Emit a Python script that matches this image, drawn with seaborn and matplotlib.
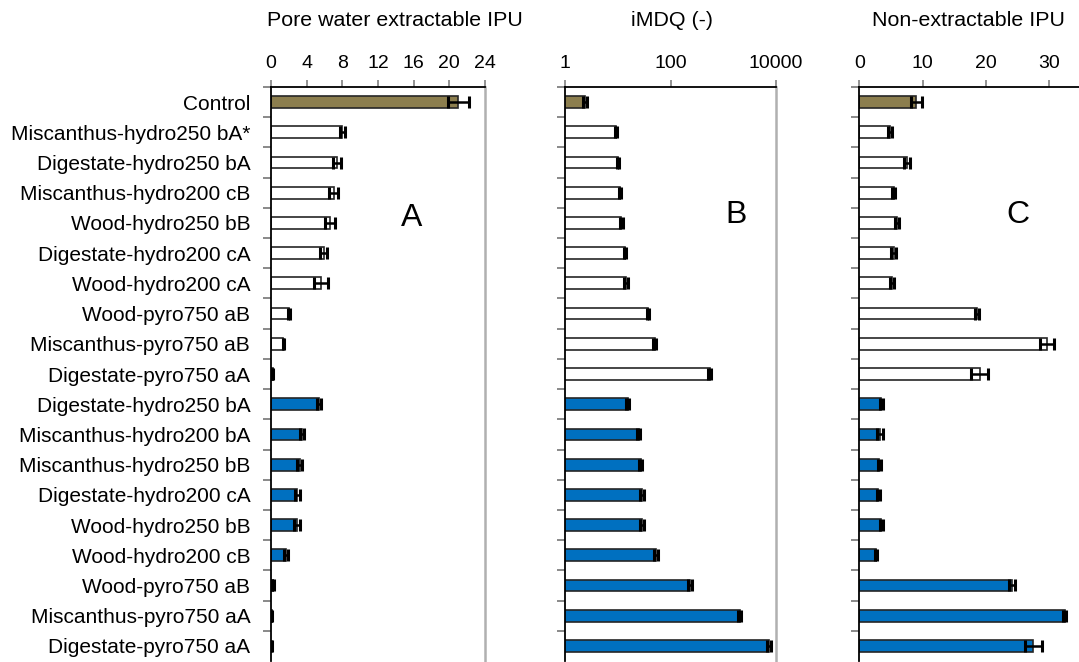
import numpy as np
import pandas as pd
import matplotlib
matplotlib.use("Agg")
import matplotlib.pyplot as plt
import seaborn as sns
from matplotlib.ticker import FixedLocator, NullLocator

labels = [
    "Control",
    "Miscanthus-hydro250 bA*", "Digestate-hydro250 bA", "Miscanthus-hydro200 cB",
    "Wood-hydro250 bB", "Digestate-hydro200 cA", "Wood-hydro200 cA",
    "Wood-pyro750 aB", "Miscanthus-pyro750 aB", "Digestate-pyro750 aA",
    "Digestate-hydro250 bA", "Miscanthus-hydro200 bA", "Miscanthus-hydro250 bB",
    "Digestate-hydro200 cA", "Wood-hydro250 bB", "Wood-hydro200 cB",
    "Wood-pyro750 aB", "Miscanthus-pyro750 aA", "Digestate-pyro750 aA",
]
groups = ["control"] + ["white"] * 9 + ["blue"] * 9

pore_water = [21.0, 8.0, 7.4, 7.05, 6.6, 5.9, 5.6, 2.05, 1.4, 0.2,
              5.4, 3.45, 3.2, 2.95, 2.9, 1.7, 0.26, 0.1, 0.05]
pore_water_err = [1.2, 0.25, 0.45, 0.5, 0.6, 0.4, 0.75, 0.1, 0.1, 0.05,
                  0.2, 0.2, 0.25, 0.25, 0.35, 0.2, 0.1, 0.05, 0.05]

imdq = [2.37, 9.4, 10.1, 10.9, 11.7, 13.6, 14.2, 37.6, 50.0, 557.0,
        15.3, 25.0, 27.0, 28.5, 29.0, 54.0, 232.0, 2065.0, 7600.0]
imdq_err = [0.2, 0.4, 0.5, 0.6, 0.6, 0.6, 1.2, 1.5, 2.5, 40.0,
            0.8, 1.5, 2.0, 2.5, 3.0, 5.0, 20.0, 150.0, 700.0]

non_extractable = [9.0, 4.85, 7.5, 5.4, 6.0, 5.4, 5.1, 18.6, 29.6, 19.0,
                   3.5, 3.27, 3.16, 3.0, 3.5, 2.6, 24.1, 32.4, 27.5]
non_extractable_err = [0.9, 0.3, 0.5, 0.3, 0.3, 0.4, 0.3, 0.3, 1.1, 1.3,
                       0.3, 0.4, 0.25, 0.2, 0.25, 0.2, 0.5, 0.3, 1.3]

rows = [f"r{i:02d}" for i in range(len(labels))]
df = pd.DataFrame({
    "row": rows, "label": labels, "group": groups,
    "pw": pore_water, "pw_err": pore_water_err,
    "imdq": imdq, "imdq_err": imdq_err,
    "ne": non_extractable, "ne_err": non_extractable_err,
})

palette = {"control": "#8C7E4E", "white": "#FFFFFF", "blue": "#0070C0"}

sns.set_theme(style="white")
plt.rcParams["font.family"] = ["Liberation Sans", "DejaVu Sans"]

W, H = 1079, 662
fig = plt.figure(figsize=(W / 100, H / 100), dpi=100)


def panel(left_px, right_px, col, err, xlim, xticks, xticklabels, title, title_x,
          letter, letter_pos, log=False, show_labels=False, right_spine=True):
    top_px, bot_px = 87, 661
    rect = [left_px / W, 1 - bot_px / H, (right_px - left_px) / W, (bot_px - top_px) / H]
    ax = fig.add_axes(rect)
    if log:
        ax.set_xscale("log")
    sns.barplot(data=df, x=col, y="row", hue="group", order=rows,
                hue_order=["control", "white", "blue"], palette=palette,
                saturation=1, dodge=False, width=0.39, orient="h",
                edgecolor="#262626", linewidth=1.2, legend=False,
                errorbar=None, ax=ax)
    ax.errorbar(df[col], np.arange(len(rows)), xerr=df[err], fmt="none",
                ecolor="black", elinewidth=1.8, capsize=4, capthick=2.2, zorder=5)
    ax.set_xlim(*xlim)
    ax.set_ylim(len(rows) - 0.5, -0.5)
    ax.set_xlabel("")
    ax.set_ylabel("")
    ax.xaxis.set_major_locator(FixedLocator(xticks))
    ax.xaxis.set_minor_locator(NullLocator())
    ax.set_xticklabels(xticklabels)
    ax.xaxis.tick_top()
    ax.tick_params(axis="x", which="major", direction="out", length=5, width=1.2,
                   color="#808080", pad=5.5, labelsize=14, top=True, bottom=False,
                   labeltop=True, labelbottom=False, labelcolor="black")
    ax.yaxis.set_major_locator(FixedLocator(np.arange(len(rows))))
    ax.yaxis.set_minor_locator(FixedLocator(np.arange(len(rows)) - 0.5))
    if show_labels:
        ax.set_yticklabels(labels)
    else:
        ax.set_yticklabels([])
    ax.tick_params(axis="y", which="major", length=0, pad=15, labelsize=15,
                   labelcolor="black", left=True)
    ax.tick_params(axis="y", which="minor", length=6, width=1.3, color="#808080",
                   direction="out", left=True)
    for s in ["left", "top"]:
        ax.spines[s].set_color("black")
        ax.spines[s].set_linewidth(1.3)
    ax.spines["bottom"].set_visible(False)
    if right_spine:
        ax.spines["right"].set_color("#b0b0b0")
        ax.spines["right"].set_linewidth(1.8)
    else:
        ax.spines["right"].set_visible(False)
    ax.text(letter_pos[0], letter_pos[1], letter, transform=ax.transAxes,
            fontsize=23, ha="center", va="center", color="black")
    fig.text(title_x / W, 1 - 20 / H, title, ha="center", va="center",
             fontsize=15.4, color="black")
    return ax


panel(271, 485, "pw", "pw_err", (0, 24), [0, 4, 8, 12, 16, 20, 24],
      ["0", "4", "8", "12", "16", "20", "24"], "Pore water extractable IPU", 395,
      "A", (0.657, 0.772), show_labels=True)
panel(565.3, 775.7, "imdq", "imdq_err", (1, 10000), [1, 100, 10000],
      ["1", "100", "10000"], "iMDQ (-)", 672, "B", (0.811, 0.777), log=True)
panel(859.3, 1081, "ne", "ne_err", (0, 35), [0, 10, 20, 30],
      ["0", "10", "20", "30"], "Non-extractable IPU", 968, "C", (0.716, 0.777),
      right_spine=False)

fig.savefig("out.png", dpi=100)
